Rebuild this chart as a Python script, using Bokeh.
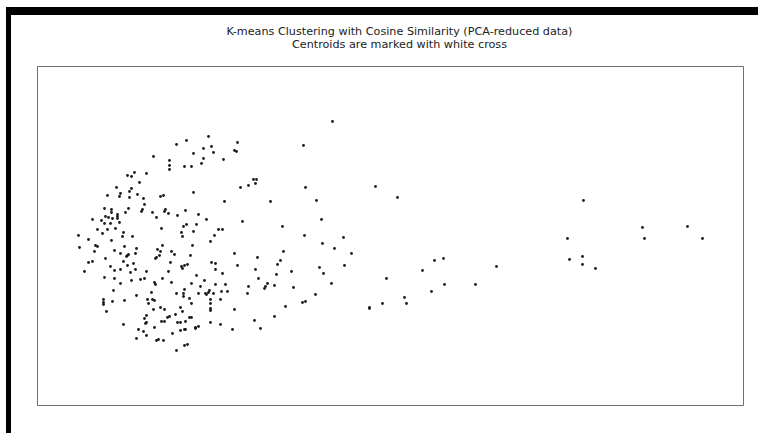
from bokeh.plotting import figure
from bokeh.models import Range1d, ColumnDataSource
from bokeh.layouts import column
from bokeh.core.properties import value
from bokeh.embed import file_html
from bokeh.resources import INLINE

TITLE_LINES = ["K-means Clustering with Cosine Similarity (PCA-reduced data)",
               "Centroids are marked with white cross"]

# PCA component 1 / component 2 values
# dense cluster, upper-left part
core_a_x = [-0.47, -0.73, -0.69, -0.66, -0.54, -0.61, -0.84, -0.69, -0.71, -0.80,
            -0.81, -0.93, -0.63, -0.71, -0.57, -0.40, -0.37, -0.56, -0.96, -0.89,
            -0.72, -0.58, -0.59, -0.89, -0.83, -0.83, -0.83, -0.75, -0.48, -0.44,
            -0.95, -0.92, -1.08, -0.99, -0.88, -0.96, -0.90, -0.81, -1.03, -0.93,
            -0.85, -0.98, -0.77, -0.39, -1.22, -1.12, -0.89, -0.78, -0.68]
core_a_y = [0.79, 0.60, 0.59, 0.63, 0.62, 0.53, 0.48, 0.47, 0.44, 0.42,
            0.39, 0.40, 0.41, 0.38, 0.37, 0.39, 0.40, 0.31, 0.27, 0.26,
            0.27, 0.26, 0.24, 0.23, 0.21, 0.19, 0.17, 0.23, 0.23, 0.18,
            0.19, 0.18, 0.16, 0.15, 0.17, 0.12, 0.12, 0.13, 0.06, 0.06,
            0.07, 0.02, 0.03, 0.07, 0.00, -0.04, -0.05, -0.01, -0.01]

# dense cluster, upper-right part
core_b_x = [0.08, -0.14, -0.24, 0.37, 0.03, 0.11, 0.13, -0.07, 0.34, 0.36,
            -0.31, -0.31, -0.31, 0.03, 0.23, -0.16, -0.09, 0.01, 0.53, 0.56,
            0.55, 0.48, 0.40, -0.07, 0.24, -0.35, -0.36, -0.32, -0.23, -0.15,
            -0.02, 0.06, 0.42, -0.14, -0.17, -0.04, -0.07, 0.18, 0.22, -0.19,
            -0.18, 0.14, 0.10]
core_b_y = [0.99, 0.95, 0.91, 0.93, 0.87, 0.89, 0.83, 0.82, 0.85, 0.84,
            0.75, 0.70, 0.66, 0.77, 0.76, 0.69, 0.69, 0.72, 0.56, 0.56,
            0.52, 0.50, 0.48, 0.43, 0.34, 0.26, 0.24, 0.22, 0.20, 0.25,
            0.21, 0.16, 0.14, 0.11, 0.09, 0.11, 0.04, 0.06, 0.06, 0.03,
            -0.01, 0.00, -0.06]

# dense cluster, lower-left part
core_c_x = [-1.21, -1.05, -1.03, -1.06, -0.76, -0.86, -0.80, -0.73, -0.72, -0.74,
            -0.64, -0.65, -0.43, -0.40, -0.41, -0.44, -0.45, -0.38, -0.95, -0.77,
            -0.67, -1.12, -1.08, -0.90, -0.86, -0.80, -0.73, -0.70, -0.65, -1.16,
            -0.54, -0.96, -0.86, -0.69, -0.60, -0.56, -0.80, -0.46, -0.45, -0.38,
            -0.87, -0.49, -0.64, -0.97, -0.97, -0.97, -0.88, -0.76, -0.53, -0.52,
            -0.48, -0.46, -0.40, -0.36, -0.47, -0.94, -0.54, -0.56, -0.54, -0.55,
            -0.39, -0.36, -0.77, -0.46, -0.62, -0.57, -0.54, -0.64, -0.44, -0.42]
core_c_y = [-0.12, -0.10, -0.11, -0.16, -0.11, -0.15, -0.18, -0.20, -0.19, -0.21,
            -0.13, -0.18, -0.14, -0.16, -0.20, -0.22, -0.23, -0.10, -0.23, -0.26,
            -0.28, -0.27, -0.26, -0.31, -0.35, -0.34, -0.30, -0.37, -0.34, -0.36,
            -0.36, -0.42, -0.43, -0.45, -0.44, -0.43, -0.48, -0.47, -0.49, -0.43,
            -0.55, -0.57, -0.60, -0.64, -0.67, -0.69, -0.66, -0.65, -0.64, -0.68,
            -0.64, -0.65, -0.72, -0.74, -0.74, -0.76, -0.80, -0.83, -0.87, -0.88,
            -0.86, -0.86, -0.89, -0.92, -0.94, -0.96, -1.00, -1.03, -1.05, -1.04]

# dense cluster, lower-right part
core_d_x = [-0.08, -0.29, -0.26, -0.10, 0.34, 0.57, -0.30, -0.19, -0.18, -0.16,
            -0.13, 0.11, 0.15, 0.15, 0.37, -0.32, 0.22, 0.55, -0.04, 0.04,
            0.58, -0.29, -0.09, 0.00, 0.15, 0.25, 0.48, -0.16, -0.24, -0.17,
            -0.17, -0.02, 0.05, 0.06, 0.08, 0.09, 0.13, 0.21, 0.27, 0.47,
            -0.11, 0.10, 0.20, -0.09, 0.10, -0.20, -0.18, 0.10, 0.10, 0.34,
            -0.25, -0.31, -0.33, -0.11, -0.09, -0.23, -0.20, -0.15, 0.10, -0.02,
            0.20, 0.54, -0.28, -0.20, -0.16, -0.15, -0.05, -0.05, 0.32, -0.37,
            -0.13, -0.16, -0.24]
core_d_y = [-0.10, -0.16, -0.19, -0.20, -0.18, -0.22, -0.27, -0.31, -0.33, -0.30,
            -0.29, -0.27, -0.28, -0.34, -0.30, -0.36, -0.38, -0.34, -0.40, -0.45,
            -0.43, -0.47, -0.48, -0.51, -0.49, -0.49, -0.51, -0.54, -0.58, -0.58,
            -0.61, -0.58, -0.58, -0.59, -0.57, -0.55, -0.58, -0.56, -0.56, -0.58,
            -0.63, -0.64, -0.64, -0.68, -0.68, -0.72, -0.76, -0.73, -0.75, -0.74,
            -0.79, -0.81, -0.82, -0.82, -0.82, -0.87, -0.87, -0.86, -0.87, -0.91,
            -0.89, -0.85, -0.98, -0.95, -0.94, -0.94, -0.93, -0.92, -0.94, -1.05,
            -1.09, -1.10, -1.15]

# scattered middle points
mid_x = [1.32, 1.03, 1.05, 0.70, 1.16, 1.21, 0.82, 1.04, 1.43, 1.22,
         1.34, 1.51, 0.83, 0.80, 0.77, 1.19, 1.44, 0.76, 0.91, 1.23,
         0.67, 0.65, 0.64, 0.74, 0.93, 1.31, 1.15, 1.02, 1.05, 0.85,
         0.74, 0.60]
mid_y = [1.14, 0.90, 0.48, 0.34, 0.35, 0.16, 0.09, 0.00, -0.02, -0.08,
         -0.13, -0.18, -0.16, -0.25, -0.29, -0.32, -0.30, -0.39, -0.36, -0.38,
         -0.48, -0.51, -0.53, -0.50, -0.52, -0.48, -0.59, -0.67, -0.66, -0.71,
         -0.81, -0.93]

# far points to the right
far_x = [1.75, 1.97, 3.83, 4.42, 4.87, 3.67, 4.44, 5.02, 2.34, 2.43,
         3.69, 3.82, 3.82, 3.95, 2.22, 2.96, 1.86, 2.44, 2.75, 2.31,
         2.04, 1.82, 2.06, 1.69, 1.69]
far_y = [0.49, 0.38, 0.35, 0.08, 0.09, -0.03, -0.03, -0.03, -0.25, -0.23,
         -0.24, -0.21, -0.29, -0.33, -0.35, -0.31, -0.43, -0.49, -0.49, -0.56,
         -0.62, -0.68, -0.68, -0.72, -0.73]

X_LIM = (-1.63, 5.43)
Y_LIM = (-1.70, 1.69)

xs = core_a_x + core_b_x + core_c_x + core_d_x + mid_x + far_x
ys = core_a_y + core_b_y + core_c_y + core_d_y + mid_y + far_y
source = ColumnDataSource(data=dict(x=xs, y=ys))

FIG_W = 747
HEAD_H = 51
BORDER_L, BORDER_R = 26, 15
FRAME_W = FIG_W - BORDER_L - BORDER_R
WHITE = {"background-color": "white"}

# heading strip holding the two title lines (same side borders as the plot)
head = figure(width=FIG_W, height=HEAD_H, output_backend="svg", toolbar_location=None,
              x_range=Range1d(0, FRAME_W), y_range=Range1d(HEAD_H, 0),
              x_axis_location=None, y_axis_location=None,
              min_border_left=BORDER_L, min_border_right=BORDER_R,
              min_border_top=0, min_border_bottom=0, styles=WHITE)
head.title.visible = False
head.grid.visible = False
head.outline_line_color = None
head.background_fill_color = "white"
head.border_fill_color = "white"
head.text(x=[FRAME_W / 2 + 9] * 2, y=[16, 29], text=TITLE_LINES,
          text_align="center", text_baseline="middle",
          text_font=value("DejaVu Sans"), text_font_size="11.2px",
          text_color="#222222")

p = figure(width=FIG_W, height=418 - HEAD_H, output_backend="svg", toolbar_location=None,
           x_range=Range1d(*X_LIM), y_range=Range1d(*Y_LIM),
           x_axis_location=None, y_axis_location=None,
           min_border_left=BORDER_L, min_border_right=BORDER_R,
           min_border_top=0, min_border_bottom=28, styles=WHITE)
p.title.visible = False
p.grid.visible = False
p.background_fill_color = "white"
p.border_fill_color = "white"
p.outline_line_color = "#6e6e6e"
p.outline_line_width = 1

p.scatter("x", "y", source=source, size=2.8, fill_color="#1a1a1a",
          line_color=None, marker="circle")

inner = column(head, p, spacing=0, margin=(8, 0, 0, 5), styles=WHITE)
root = column(inner, margin=(7, 0, 0, 6), styles={"background-color": "black"})

open("out.html", "w").write(file_html(root, INLINE))
